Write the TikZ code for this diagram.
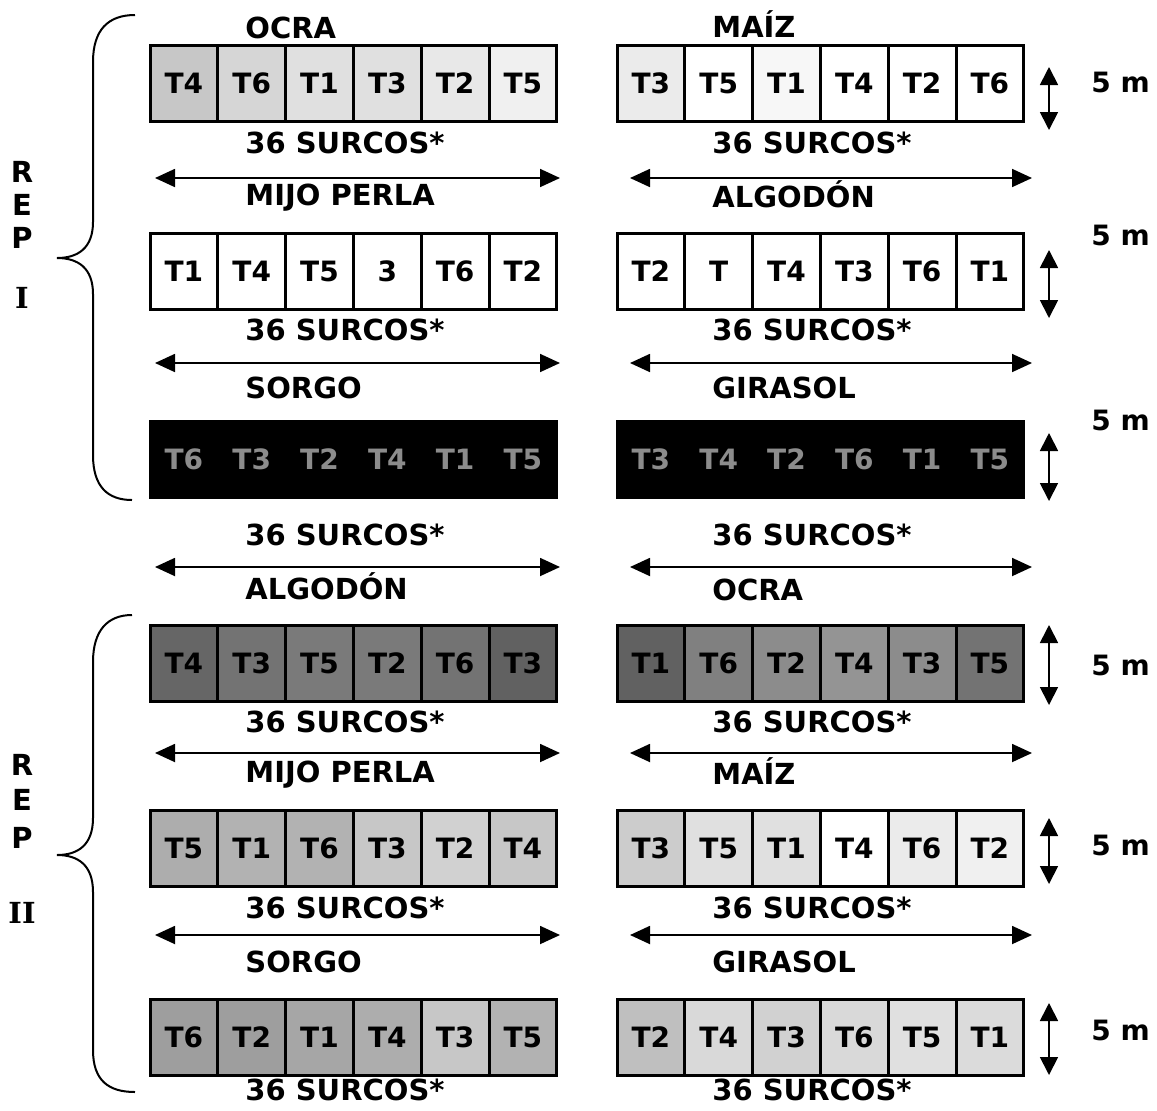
\documentclass[tikz,border=0pt]{standalone}
\usepackage{fontspec}
\setmainfont{DejaVu Sans}
\newfontfamily\romanbold{DejaVu Serif}
\usetikzlibrary{arrows.meta}
\newcommand{\plotrow}[4]{%
  \foreach \t/\f/\c [count=\i] in {#4} {%
    \node[cell,fill=\f,text=\c] (#1\i) at ({#2+67.8*(\i-0.5)},#3) {\t};
  }}
\begin{document}
\begin{tikzpicture}[x=0.5pt,y=-0.5pt,
  cell/.style={draw=black,line width=1.5pt,minimum width=33.9pt,minimum height=38pt,inner sep=0pt,
    font=\fontsize{14}{16}\selectfont\bfseries},
  lbl/.style={anchor=west,inner sep=0pt,font=\fontsize{14.5}{16}\selectfont\bfseries},
  lblacc/.style={lbl,yshift=1.8pt},
  meter/.style={anchor=west,inner sep=0pt,font=\fontsize{14}{16}\selectfont\bfseries},
  repl/.style={inner sep=0pt,font=\fontsize{14.5}{16}\selectfont\bfseries},
  repn/.style={inner sep=0pt,font=\fontsize{14.5}{16}\selectfont\romanbold\bfseries},
  harrow/.style={{Triangle[length=10pt,width=9pt]}-{Triangle[length=10pt,width=9pt]},line width=0.9pt},
  varrow/.style={{Triangle[length=9pt,width=9pt]}-{Triangle[length=9pt,width=9pt]},line width=0.9pt},
  brace/.style={line width=1pt}
]
\useasboundingbox (0,0) rectangle (1157,1110);

% ---------- row 1
\node[lbl] (l1a) at (245,28) {OCRA};
\node[lblacc] (r1a) at (712,28) {MAÍZ};
\plotrow{aL}{150}{83}{T4/black!22/black,T6/black!16/black,T1/black!12/black,T3/black!12/black,T2/black!9/black,T5/black!6/black}
\plotrow{aR}{617}{83}{T3/black!8/black,T5/white/black,T1/black!3/black,T4/white/black,T2/white/black,T6/white/black}
\node[lbl] (l1b) at (245,143) {36 SURCOS*};
\node[lbl] (r1b) at (712,143) {36 SURCOS*};
\coordinate (h1a) at (155,178); \coordinate (h1b) at (560,178);
\coordinate (h1c) at (630,178); \coordinate (h1d) at (1032,178);
\draw[harrow] (h1a) -- (h1b);
\draw[harrow] (h1c) -- (h1d);
\node[lbl] (l1c) at (245,198) {MIJO PERLA};
\node[lblacc] (r1c) at (712,198) {ALGODÓN};

% ---------- row 2
\plotrow{bL}{150}{271}{T1/white/black,T4/white/black,T5/white/black,3/white/black,T6/white/black,T2/white/black}
\plotrow{bR}{617}{271}{T2/white/black,T/white/black,T4/white/black,T3/white/black,T6/white/black,T1/white/black}
\node[lbl] (l2b) at (245,330) {36 SURCOS*};
\node[lbl] (r2b) at (712,330) {36 SURCOS*};
\coordinate (h2a) at (155,363); \coordinate (h2b) at (560,363);
\coordinate (h2c) at (630,363); \coordinate (h2d) at (1032,363);
\draw[harrow] (h2a) -- (h2b);
\draw[harrow] (h2c) -- (h2d);
\node[lbl] (l2c) at (245,388) {SORGO};
\node[lbl] (r2c) at (712,388) {GIRASOL};

% ---------- row 3
\plotrow{cL}{150}{459}{T6/black/black!45,T3/black/black!45,T2/black/black!45,T4/black/black!45,T1/black/black!45,T5/black/black!45}
\plotrow{cR}{617}{459}{T3/black/black!45,T4/black/black!45,T2/black/black!45,T6/black/black!45,T1/black/black!45,T5/black/black!45}
\node[lbl] (l3b) at (245,535) {36 SURCOS*};
\node[lbl] (r3b) at (712,535) {36 SURCOS*};
\coordinate (h3a) at (155,567); \coordinate (h3b) at (560,567);
\coordinate (h3c) at (630,567); \coordinate (h3d) at (1032,567);
\draw[harrow] (h3a) -- (h3b);
\draw[harrow] (h3c) -- (h3d);
\node[lblacc] (l3c) at (245,590) {ALGODÓN};
\node[lbl] (r3c) at (712,590) {OCRA};

% ---------- row 4
\plotrow{dL}{150}{663}{T4/black!60/black,T3/black!55/black,T5/black!52/black,T2/black!52/black,T6/black!55/black,T3/black!62/black}
\plotrow{dR}{617}{663}{T1/black!62/black,T6/black!50/black,T2/black!45/black,T4/black!42/black,T3/black!45/black,T5/black!55/black}
\node[lbl] (l4b) at (245,722) {36 SURCOS*};
\node[lbl] (r4b) at (712,722) {36 SURCOS*};
\coordinate (h4a) at (155,753); \coordinate (h4b) at (560,753);
\coordinate (h4c) at (630,753); \coordinate (h4d) at (1032,753);
\draw[harrow] (h4a) -- (h4b);
\draw[harrow] (h4c) -- (h4d);
\node[lbl] (l4c) at (245,775) {MIJO PERLA};
\node[lblacc] (r4c) at (712,775) {MAÍZ};

% ---------- row 5
\plotrow{eL}{150}{848}{T5/black!32/black,T1/black!30/black,T6/black!30/black,T3/black!22/black,T2/black!18/black,T4/black!22/black}
\plotrow{eR}{617}{848}{T3/black!20/black,T5/black!12/black,T1/black!12/black,T4/white/black,T6/black!8/black,T2/black!6/black}
\node[lbl] (l5b) at (245,908) {36 SURCOS*};
\node[lbl] (r5b) at (712,908) {36 SURCOS*};
\coordinate (h5a) at (155,935); \coordinate (h5b) at (560,935);
\coordinate (h5c) at (630,935); \coordinate (h5d) at (1032,935);
\draw[harrow] (h5a) -- (h5b);
\draw[harrow] (h5c) -- (h5d);
\node[lbl] (l5c) at (245,962) {SORGO};
\node[lbl] (r5c) at (712,962) {GIRASOL};

% ---------- row 6
\plotrow{fL}{150}{1037}{T6/black!38/black,T2/black!38/black,T1/black!35/black,T4/black!32/black,T3/black!22/black,T5/black!30/black}
\plotrow{fR}{617}{1037}{T2/black!25/black,T4/black!15/black,T3/black!18/black,T6/black!15/black,T5/black!12/black,T1/black!14/black}
\node[lbl] (l6b) at (245,1090) {36 SURCOS*};
\node[lbl] (r6b) at (712,1090) {36 SURCOS*};

% ---------- vertical 5 m arrows
\coordinate (v1a) at (1049,67);   \coordinate (v1b) at (1049,130);
\coordinate (v2a) at (1049,250);  \coordinate (v2b) at (1049,318);
\coordinate (v3a) at (1049,433);  \coordinate (v3b) at (1049,501);
\coordinate (v4a) at (1049,625);  \coordinate (v4b) at (1049,705);
\coordinate (v5a) at (1049,818);  \coordinate (v5b) at (1049,884);
\coordinate (v6a) at (1049,1003); \coordinate (v6b) at (1049,1075);
\foreach \k in {1,...,6} {\draw[varrow] (v\k a) -- (v\k b);}
\node[meter] (m1) at (1091,82) {5 m};
\node[meter] (m2) at (1091,235) {5 m};
\node[meter] (m3) at (1091,420) {5 m};
\node[meter] (m4) at (1091,665) {5 m};
\node[meter] (m5) at (1091,845) {5 m};
\node[meter] (m6) at (1091,1030) {5 m};

% ---------- braces
\draw[brace] (135,15) .. controls (108,15) and (93,30) .. (93,62) -- (93,222)
  .. controls (93,248) and (78,258) .. (57,258)
  .. controls (78,258) and (93,268) .. (93,294) -- (93,455)
  .. controls (93,487) and (108,500) .. (132,500);
\draw[brace] (132,615) .. controls (108,615) and (93,630) .. (93,662) -- (93,818)
  .. controls (93,845) and (78,855) .. (57,855)
  .. controls (78,855) and (93,865) .. (93,892) -- (93,1050)
  .. controls (93,1080) and (108,1092) .. (135,1092);

% ---------- REP labels
\node[repl] (ra) at (22,172) {R};
\node[repl] (rb) at (22,205) {E};
\node[repl] (rc) at (22,238) {P};
\node[repn] (rd) at (22,298) {I};
\node[repl] (sa) at (22,765) {R};
\node[repl] (sb) at (22,800) {E};
\node[repl] (sc) at (22,838) {P};
\node[repn] (sd) at (22,913) {II};
\end{tikzpicture}
\end{document}
